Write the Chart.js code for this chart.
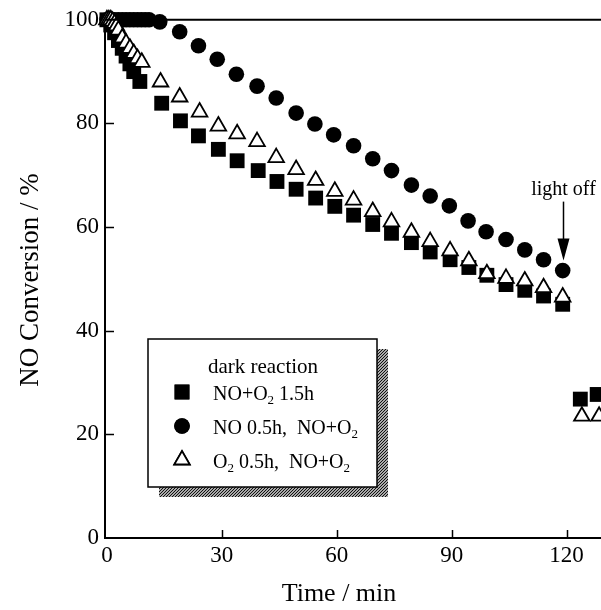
<!DOCTYPE html>
<html>
<head>
<meta charset="utf-8">
<script src="https://cdn.jsdelivr.net/npm/chart.js@4/dist/chart.umd.min.js"></script>
<style>
  html, body { margin: 0; padding: 0; background: #fff; overflow: hidden; }
  #wrap { width: 601px; height: 610px; }
</style>
</head>
<body>
<div id="wrap"><canvas id="conversionChart"></canvas></div>
<script>
// series labels (_2 = subscript 2)
const seriesLabels = ['NO+O_2 1.5h', 'NO 0.5h,  NO+O_2', 'O_2 0.5h,  NO+O_2'];
const legendTitle = 'dark reaction';

// NO+O2 1.5h (filled squares)
const squareTime = [0, 1, 2, 3, 4, 5, 6, 7, 8.6, 14.3, 19.2, 23.9, 29.1, 34.0, 39.5, 44.4, 49.4, 54.5, 59.5,
  64.4, 69.4, 74.3, 79.5, 84.4, 89.6, 94.5, 99.2, 104.2, 109.1, 114, 119, 123.6, 128];
const squareConv = [100, 99, 97.5, 96, 94.5, 93, 91.5, 90, 88.1, 83.9, 80.5, 77.6, 75.0, 72.8, 70.9, 68.8, 67.3, 65.6, 64.0,
  62.3, 60.5, 58.8, 57.0, 55.2, 53.7, 52.2, 50.7, 48.9, 47.8, 46.7, 45.1, 26.8, 27.7];

// NO 0.5h, NO+O2 (filled circles)
const circleTime = [0, 1, 2, 3, 4, 5, 6, 7, 8, 9, 10, 11, 13.8, 19.0, 23.9, 28.8, 33.8, 39.2, 44.2, 49.4, 54.3,
  59.2, 64.4, 69.4, 74.3, 79.5, 84.4, 89.4, 94.3, 99.0, 104.2, 109.1, 114.0, 119.0];
const circleConv = [100, 100, 100, 100, 100, 100, 100, 100, 100, 100, 100, 100, 99.6, 97.7, 95.0, 92.4, 89.5, 87.2, 84.9, 82.0, 79.9,
  77.8, 75.7, 73.2, 70.9, 68.1, 66.0, 64.1, 61.2, 59.1, 57.6, 55.6, 53.7, 51.6];

// O2 0.5h, NO+O2 (open triangles)
const triangleTime = [0, 0.5, 1, 1.5, 2, 2.5, 3, 4, 5, 6, 7, 8, 9.1, 14.0, 19.0, 24.2, 29.1, 34.0, 39.2, 44.2, 49.4, 54.5, 59.5,
  64.4, 69.4, 74.3, 79.5, 84.4, 89.6, 94.5, 99.2, 104.2, 109.1, 114, 119, 124, 128.5];
const triangleConv = [100, 100, 100, 99.7, 99.3, 98.8, 98, 96.5, 95.5, 94.5, 93.5, 92.5, 91.8, 88.0, 85.1, 82.2, 79.5, 78.0, 76.5, 73.4, 71.1, 69.0, 66.9,
  65.2, 63.0, 61.0, 59.0, 57.2, 55.4, 53.5, 51.0, 50.1, 49.6, 48.3, 46.5, 23.5, 23.5];

const xTicks = [0, 30, 60, 90, 120];
const yTicks = [0, 20, 40, 60, 80, 100];

// "light off" arrow points at the last dark-phase circle
const lightOffLabel = 'light off';
const lightOffTime = 119.0;
const lightOffValue = 51.6;

const toPoints = (xs, ys) => xs.map((t, i) => ({ x: t, y: ys[i] }));

const FONT = "'Liberation Serif', 'Times New Roman', serif";

// draw text where "_2" means a subscript 2
function drawRich(ctx, text, x, y, size) {
  const parts = text.split(/(_\d)/);
  let cx = x;
  parts.forEach(p => {
    if (!p) return;
    if (p[0] === '_') {
      ctx.font = `${Math.round(size * 0.65)}px ${FONT}`;
      ctx.fillText(p.slice(1), cx, y + size * 0.22);
      cx += ctx.measureText(p.slice(1)).width;
    } else {
      ctx.font = `${size}px ${FONT}`;
      ctx.fillText(p, cx, y);
      cx += ctx.measureText(p).width;
    }
  });
}

function hatchPattern(ctx) {
  const c = document.createElement('canvas');
  c.width = 3; c.height = 3;
  const g = c.getContext('2d');
  g.fillStyle = '#aaa';
  g.fillRect(0, 0, 3, 3);
  g.fillStyle = '#111';
  for (let i = 0; i < 3; i++) g.fillRect(i, 2 - i, 1, 1);
  return ctx.createPattern(c, 'repeat');
}

const decorPlugin = {
  id: 'decor',
  afterDraw(chart) {
    const { ctx, chartArea: area, scales: { x, y } } = chart;
    ctx.save();
    ctx.strokeStyle = '#000';
    ctx.fillStyle = '#000';

    // top frame line
    ctx.lineWidth = 2;
    ctx.beginPath();
    ctx.moveTo(area.left, area.top);
    ctx.lineTo(area.right, area.top);
    ctx.stroke();

    // inward tick marks
    ctx.lineWidth = 1.5;
    yTicks.forEach(v => {
      if (v === 0 || v === 100) return;
      const py = Math.round(y.getPixelForValue(v)) + 0.5;
      ctx.beginPath();
      ctx.moveTo(area.left, py);
      ctx.lineTo(area.left + 9, py);
      ctx.stroke();
    });
    xTicks.forEach(v => {
      if (v === 0) return;
      const px = Math.round(x.getPixelForValue(v)) + 0.5;
      ctx.beginPath();
      ctx.moveTo(px, area.bottom);
      ctx.lineTo(px, area.bottom - 8);
      ctx.stroke();
    });

    // axis titles
    ctx.textAlign = 'center';
    ctx.textBaseline = 'middle';
    ctx.font = `26px ${FONT}`;
    ctx.fillText('Time / min', 339, 594);
    ctx.save();
    ctx.translate(31, 280);
    ctx.rotate(-Math.PI / 2);
    ctx.font = `27px ${FONT}`;
    ctx.fillText('NO Conversion / %', 0, 0);
    ctx.restore();

    // light off arrow
    const ax = Math.round(x.getPixelForValue(lightOffTime)) + 0.5;
    const tip = y.getPixelForValue(lightOffValue) - 10;
    ctx.textBaseline = 'alphabetic';
    ctx.font = `20px ${FONT}`;
    ctx.fillText(lightOffLabel, ax, tip - 66);
    ctx.lineWidth = 1.5;
    ctx.beginPath();
    ctx.moveTo(ax, tip - 59);
    ctx.lineTo(ax, tip - 18);
    ctx.stroke();
    ctx.beginPath();
    ctx.moveTo(ax - 6, tip - 22);
    ctx.lineTo(ax + 6, tip - 22);
    ctx.lineTo(ax, tip);
    ctx.closePath();
    ctx.fill();

    // legend box with hatched shadow
    const bx = 148, by = 339, bw = 229, bh = 148;
    ctx.fillStyle = hatchPattern(ctx);
    ctx.fillRect(bx + 11, by + 10, bw, bh);
    ctx.fillStyle = '#fff';
    ctx.fillRect(bx, by, bw, bh);
    ctx.lineWidth = 1.5;
    ctx.strokeRect(bx, by, bw, bh);

    ctx.fillStyle = '#000';
    ctx.textAlign = 'center';
    ctx.font = `21px ${FONT}`;
    ctx.fillText(legendTitle, bx + 115, by + 34);

    ctx.textAlign = 'left';
    chart.data.datasets.forEach((ds, i) => {
      const cy = by + 53 + i * 34;
      Chart.helpers.drawPoint(ctx, {
        pointStyle: ds.pointStyle,
        radius: ds.pointRadius,
        borderWidth: ds.borderWidth
      }, bx + 34, cy);
      ctx.fillStyle = ds.backgroundColor;
      ctx.strokeStyle = ds.borderColor;
      ctx.lineWidth = ds.borderWidth;
      ctx.fill();
      if (ds.borderWidth) ctx.stroke();
      ctx.fillStyle = '#000';
      drawRich(ctx, seriesLabels[i], bx + 65, cy + 8, 20);
    });
    ctx.restore();
  }
};

const ctx = document.getElementById('conversionChart').getContext('2d');
new Chart(ctx, {
  type: 'scatter',
  data: {
    datasets: [
      {
        label: seriesLabels[0],
        data: toPoints(squareTime, squareConv),
        pointStyle: 'rect',
        pointRadius: 10.5,
        backgroundColor: '#000',
        borderColor: '#000',
        borderWidth: 0,
        order: 2,
        clip: false
      },
      {
        label: seriesLabels[1],
        data: toPoints(circleTime, circleConv),
        pointStyle: 'circle',
        pointRadius: 7.8,
        backgroundColor: '#000',
        borderColor: '#000',
        borderWidth: 0,
        order: 1,
        clip: false
      },
      {
        label: seriesLabels[2],
        data: toPoints(triangleTime, triangleConv),
        pointStyle: 'triangle',
        pointRadius: 9,
        backgroundColor: '#fff',
        borderColor: '#000',
        borderWidth: 1.8,
        order: 0,
        clip: false
      }
    ]
  },
  options: {
    responsive: true,
    maintainAspectRatio: false,
    animation: false,
    events: [],
    layout: { padding: { top: 15, right: 0, left: 0, bottom: 0 }, autoPadding: false },
    plugins: {
      legend: { display: false },
      tooltip: { enabled: false }
    },
    scales: {
      x: {
        type: 'linear',
        min: -0.5,
        max: 129,
        afterBuildTicks: scale => { scale.ticks = xTicks.map(v => ({ value: v })); },
        afterFit: scale => { scale.height = 72; },
        grid: { display: false, drawTicks: false },
        border: { display: true, color: '#000', width: 2 },
        ticks: {
          color: '#000',
          padding: 4,
          maxRotation: 0,
          font: { family: FONT, size: 23 }
        }
      },
      y: {
        type: 'linear',
        min: 0,
        max: 100,
        afterBuildTicks: scale => { scale.ticks = yTicks.map(v => ({ value: v })); },
        afterFit: scale => { scale.width = 105; },
        grid: { display: false, drawTicks: false },
        border: { display: true, color: '#000', width: 2 },
        ticks: {
          color: '#000',
          padding: 6,
          font: { family: FONT, size: 23 }
        }
      }
    }
  },
  plugins: [decorPlugin]
});
</script>
</body>
</html>
